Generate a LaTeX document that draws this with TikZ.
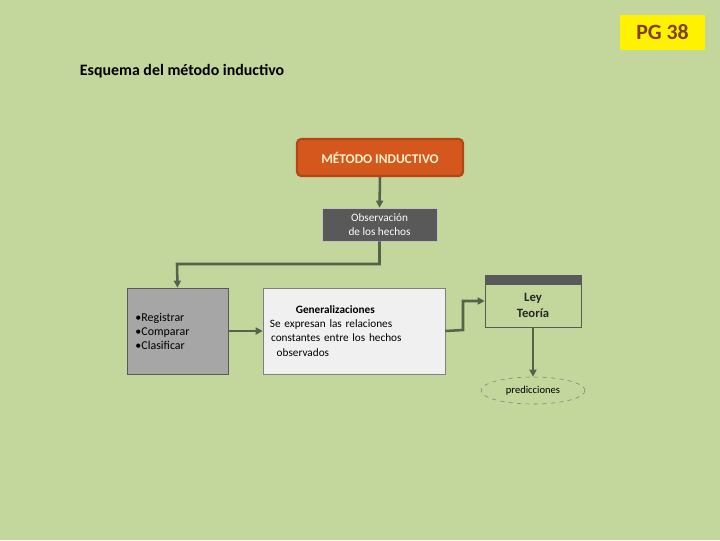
\documentclass[tikz,border=0pt]{standalone}
\usepackage{fontspec}
\setmainfont{Carlito}
\usepackage{tikz}
\usetikzlibrary{arrows.meta,shapes.geometric}

\definecolor{fondo}{RGB}{195,214,155}
\definecolor{naranja}{RGB}{212,88,30}
\definecolor{naranjaborde}{RGB}{180,70,20}
\definecolor{crema}{RGB}{255,242,204}
\definecolor{grisoscuro}{RGB}{89,89,89}
\definecolor{grismedio}{RGB}{166,166,166}
\definecolor{grisclaro}{RGB}{240,240,240}
\definecolor{linea}{RGB}{86,98,74}
\definecolor{cafe}{RGB}{128,64,0}

\tikzset{
  caja/.style={draw, rectangle, inner sep=1pt, align=center},
  flecha/.style={line width=1.8pt, linea, -{Triangle[length=5pt,width=5pt]}}
}

\begin{document}
\begin{tikzpicture}[x=0.025cm, y=-0.025cm]

\fill[fondo] (0,0) rectangle (720,540);
\useasboundingbox (0,0) rectangle (720,540);

\node[fill=yellow, text=cafe, font=\fontsize{15.5}{17}\selectfont\bfseries, minimum width=2.125cm, minimum height=0.875cm] (pg) at (662.5,32.5) {PG 38};

\node[anchor=west, font=\fontsize{11.3}{13}\selectfont\bfseries] (titulo) at (75,71) {Esquema del método inductivo};

\node[caja, rounded corners=3pt, line width=1.5pt, draw=naranjaborde, fill=naranja, text=crema, font=\fontsize{9.5}{11}\selectfont\bfseries, minimum width=4.15cm, minimum height=0.925cm] (metodo) at (380,157.5) {MÉTODO INDUCTIVO};

\node[caja, draw=grisclaro!70!grisoscuro, fill=grisoscuro, text=white, font=\fontsize{8}{10}\selectfont, minimum width=2.875cm, minimum height=0.825cm] (obs) at (379.5,224.5) {Observación\\de los hechos};

\node[caja, draw=grisoscuro, fill=grismedio, align=left, font=\fontsize{8.5}{10}\selectfont, minimum width=2.525cm, minimum height=2.15cm, text width=2.1cm] (acc) at (177.5,331) {•Registrar\\•Comparar\\•Clasificar};

\node[caja, draw=gray, fill=grisclaro, align=left, font=\fontsize{8}{10}\selectfont, minimum width=4.55cm, minimum height=2.15cm, text width=4.2cm] (gen) at (354,331) {\hspace{2.3em}\textbf{Generalizaciones}\\Se expresan las relaciones\\ \hspace{0.1em}constantes entre los hechos\\ \hspace{0.6em}observados};

\node[caja, draw=grisoscuro, fill=fondo, font=\fontsize{9}{11.3}\selectfont\bfseries, minimum width=2.4cm, minimum height=1.3cm, text=black!85] (ley) at (533,301) {\rule{0pt}{1.4em}Ley\\Teoría};
\fill[grisoscuro] (ley.north west) rectangle ([yshift=-0.25cm]ley.north east);

\node[ellipse, draw=gray, dashed, font=\fontsize{7.5}{9}\selectfont, minimum width=2.6cm, minimum height=0.675cm, inner sep=0pt] (pred) at (533,390.5) {predicciones};

\coordinate (bajada) at (177,264);
\coordinate (quiebre) at (463,330);

\draw[flecha] (metodo.south) -- (obs.north);
\draw[flecha] (obs.south) |- (bajada) -- (acc.north);
\draw[flecha] (acc.east) -- (gen.west);
\draw[flecha] (gen.east) -- (quiebre) |- (ley.west);
\draw[flecha] (ley.south) -- (pred.north);

\end{tikzpicture}
\end{document}
